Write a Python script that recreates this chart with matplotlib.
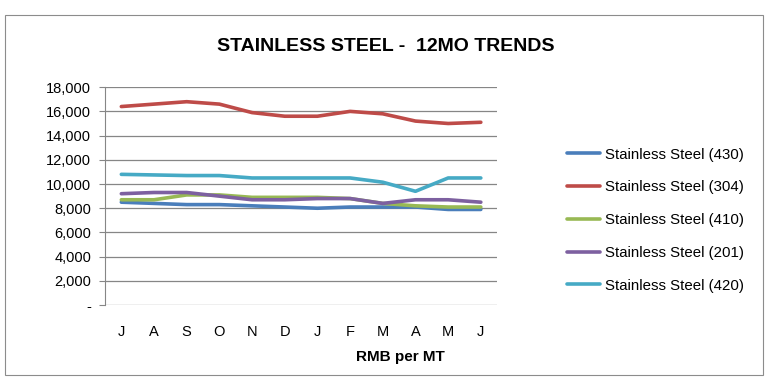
import numpy as np
import matplotlib.pyplot as plt
from matplotlib.patches import Rectangle

months = ["J", "A", "S", "O", "N", "D", "J", "F", "M", "A", "M", "J"]
ss_430 = [8500, 8400, 8300, 8300, 8200, 8100, 8000, 8100, 8100, 8100, 7900, 7900]
ss_304 = [16400, 16600, 16800, 16600, 15900, 15600, 15600, 16000, 15800, 15200, 15000, 15100]
ss_410 = [8700, 8700, 9100, 9100, 8900, 8900, 8900, 8800, 8400, 8200, 8100, 8100]
ss_201 = [9200, 9300, 9300, 9000, 8700, 8700, 8800, 8800, 8400, 8700, 8700, 8500]
ss_420 = [10800, 10750, 10700, 10700, 10500, 10500, 10500, 10500, 10150, 9400, 10500, 10500]

series = [
    ("Stainless Steel (430)", ss_430, "#4A7EBB"),
    ("Stainless Steel (304)", ss_304, "#BE4B48"),
    ("Stainless Steel (410)", ss_410, "#98B954"),
    ("Stainless Steel (201)", ss_201, "#7D60A0"),
    ("Stainless Steel (420)", ss_420, "#46AAC5"),
]
yticks = [0, 2000, 4000, 6000, 8000, 10000, 12000, 14000, 16000, 18000]
ytick_labels = ["-"] + [f"{v:,}" for v in yticks[1:]]

plt.rcParams["font.family"] = ["Liberation Sans", "DejaVu Sans"]

fig = plt.figure(figsize=(7.72, 3.79), dpi=100)
fig.patches.append(Rectangle((5 / 772, 4 / 379), 758 / 772, 360 / 379,
                             transform=fig.transFigure, fill=False,
                             edgecolor="#8c8c8c", linewidth=0.8))

ax = fig.add_axes([0.136, 0.195, 0.508, 0.575])
x = np.arange(len(months))
for name, vals, col in series:
    ax.plot(x, vals, color=col, linewidth=2.6, label=name, solid_capstyle="round")

ax.set_xlim(-0.5, len(months) - 0.5)
ax.set_ylim(0, 18000)
ax.set_yticks(yticks)
ax.set_yticklabels(ytick_labels, fontsize=10.5)
ax.set_xticks(x)
ax.set_xticklabels(months, fontsize=10.5)
ax.tick_params(axis="x", length=0, pad=14)
ax.tick_params(axis="y", length=4, color="#868686", pad=6)
ax.grid(axis="y", color="#868686", linewidth=0.9)
ax.set_axisbelow(True)
for s in ["top", "right", "bottom"]:
    ax.spines[s].set_visible(False)
ax.spines["left"].set_color("#868686")

fig.text(0.5, 0.878, "STAINLESS STEEL -  12MO TRENDS", ha="center", va="center",
         fontsize=14, fontweight="bold")
fig.text(0.518, 0.058, "RMB per MT", ha="center", va="center",
         fontsize=11, fontweight="bold")

ax.legend(loc="center left", bbox_to_anchor=(1.158, 0.39), frameon=False,
          borderpad=0, fontsize=10.8, handlelength=2.25, handletextpad=0.3,
          labelspacing=1.25)

plt.savefig("out.png", dpi=100)
